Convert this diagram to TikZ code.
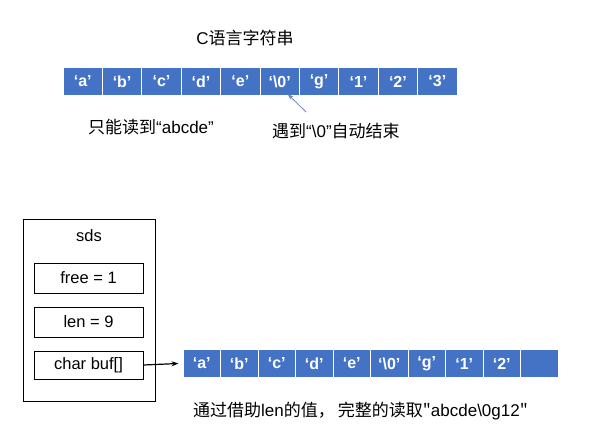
\documentclass[tikz,border=0pt]{standalone}
\usepackage{fontspec}
\setmainfont{Liberation Sans}
\newfontfamily\cjk{Noto Sans CJK SC}
\usetikzlibrary{arrows.meta}
\definecolor{cellblue}{HTML}{4472C4}
\definecolor{arrowblue}{HTML}{6F84B8}
\begin{document}
\begin{tikzpicture}[x=1pt,y=-1pt,
  cellA/.style={draw=white,line width=1pt,fill=cellblue,text=white,
    font=\bfseries\fontsize{16}{18}\selectfont,minimum width=39.4pt,minimum height=28pt,inner sep=0pt},
  cellB/.style={cellA,minimum width=37.5pt,minimum height=28pt},
  lbl/.style={font=\fontsize{17}{20}\selectfont,inner sep=0pt},
  field/.style={draw=black,line width=0.8pt,minimum width=109pt,inner sep=0pt,font=\fontsize{16.5}{19}\selectfont}]
\useasboundingbox[fill=white] (0,0) rectangle (603,436);

\node[lbl] (title) at (245,38) {C{\cjk 语言字符串}};
\foreach \t [count=\i] in {‘a’,‘b’,‘c’,‘d’,‘e’,‘\textbackslash0’,‘g’,‘1’,‘2’,‘3’}{
  \node[cellA] (t\i) at ({63+39.4*(\i-0.5)},81.5) {\t};
}
\node[lbl,anchor=west] (l1) at (88,127) {{\cjk 只能读到}“abcde”};
\node[lbl,anchor=west] (l2) at (272,131) {{\cjk 遇到}“\textbackslash0”{\cjk 自动结束}};
\coordinate (ta) at (306,112);
\draw[-{Stealth[length=6pt,width=4pt]},arrowblue,line width=0.8pt] (ta) -- ([xshift=8pt,yshift=2pt]t6.south);

\node[draw=black,line width=0.8pt,minimum width=132pt,minimum height=182pt,inner sep=0pt] (sds) at (89,310) {};
\node[lbl,font=\fontsize{16.5}{19}\selectfont] (sdsl) at (89,236) {sds};
\node[field,minimum height=30pt] (free) at (88.5,278) {free = 1};
\node[field,minimum height=30pt] (len) at (88.5,322) {len = 9};
\node[field,minimum height=28pt] (buf) at (88.5,365) {char buf[]};

\foreach \t [count=\i] in {‘a’,‘b’,‘c’,‘d’,‘e’,‘\textbackslash0’,‘g’,‘1’,‘2’,{}}{
  \node[cellB] (b\i) at ({183+37.5*(\i-0.5)},363.5) {\t};
}
\draw[-{Stealth[length=7pt,width=5pt]},line width=1.2pt] (buf.east) -- ([xshift=-4pt]b1.west);
\node[lbl,anchor=west] (l3) at (193,411) {{\cjk 通过借助}len{\cjk 的值，\kern3pt 完整的读取"}abcde\textbackslash0g12{\cjk "}};
\end{tikzpicture}
\end{document}
